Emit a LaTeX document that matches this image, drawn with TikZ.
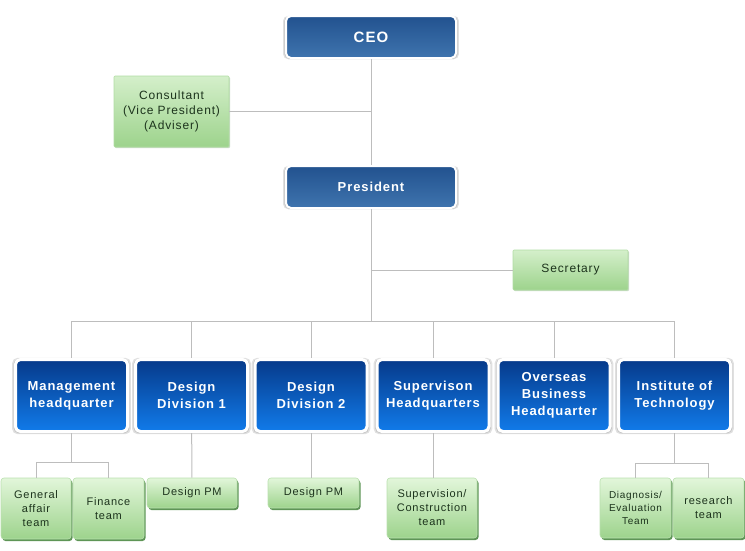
\documentclass[tikz,border=0pt]{standalone}
\usepackage{fontspec}
\setmainfont{Liberation Sans}
\newfontfamily\orgfont[LetterSpace=7]{Liberation Sans}
\usetikzlibrary{shadows}
\definecolor{chieftop}{HTML}{22528F}
\definecolor{chiefbot}{HTML}{3F74AE}
\definecolor{divtop}{HTML}{063A8A}
\definecolor{divbot}{HTML}{117BEA}
\definecolor{greentop}{HTML}{E2F6DA}
\definecolor{greenbot}{HTML}{9DD38C}
\definecolor{greendark}{HTML}{4C8A44}
\definecolor{greentext}{HTML}{1C331C}
\definecolor{linegray}{HTML}{BDBDBD}
\tikzset{
  glow/.style={drop shadow={fill=black, opacity=.12, shadow xshift=0pt, shadow yshift=-.5pt, shadow scale=#1}},
  chief/.style={draw=white, line width=2pt, rounded corners=5pt,
    top color=chieftop, bottom color=chiefbot, text=white,
    minimum width=170pt, minimum height=42pt, glow=1.035, glow=1.02},
  division/.style={draw=white, line width=3pt, rounded corners=5pt,
    top color=divtop, bottom color=divbot, text=white, align=center,
    minimum width=112pt, minimum height=72pt,
    font=\orgfont\bfseries\fontsize{13}{17}\selectfont, glow=1.06, glow=1.035},
  advisor/.style={draw=greenbot!80, line width=.6pt, rounded corners=1pt,
    top color=greentop!80!greenbot, bottom color=greenbot, text=greentext, align=center,
    font=\orgfont\fontsize{12}{15}\selectfont,
    drop shadow={fill=greendark, opacity=.3, shadow xshift=1pt, shadow yshift=-1pt}},
  team/.style={draw=greenbot!70, line width=.6pt, rounded corners=3pt,
    top color=greentop, bottom color=greenbot, text=greentext, align=center,
    font=\orgfont\fontsize{11}{14}\selectfont,
    drop shadow={fill=greendark, opacity=.9, shadow xshift=1.5pt, shadow yshift=-2pt}},
  link/.style={draw=linegray, line width=1pt}
}
\begin{document}
\begin{tikzpicture}[x=1pt,y=-1pt]
\useasboundingbox (0,0) rectangle (745,550);
\node[chief, font=\orgfont\bfseries\fontsize{15}{18}\selectfont] (ceo) at (371,37) {CEO};
\node[chief, font=\orgfont\bfseries\fontsize{13}{17}\selectfont] (pres) at (371,187) {President};
\node[advisor, minimum width=115pt, minimum height=71pt] (cons) at (171.5,111.5) {Consultant\\(Vice President)\\(Adviser)};
\node[advisor, minimum width=115pt, minimum height=40pt] (sec) at (570.5,270) {Secretary};
\foreach \n/\x/\t in {1/71.5/{Management\\headquarter}, 2/191.5/{Design\\Division 1},
  3/311/{Design\\Division 2}, 4/433/{Supervison\\Headquarters},
  5/554/{Overseas\\Business\\Headquarter}, 6/674.5/{Institute of\\Technology}}
  \node[division] (d\n) at (\x,395.5) {\t};
%%%%
\node[team, minimum width=70pt, minimum height=61pt] (gen) at (36,508.5) {General\\affair\\team};
\node[team, minimum width=71pt, minimum height=61pt] (fin) at (108.5,508.5) {Finance\\team};
\node[team, minimum width=90pt, minimum height=30pt] (pm1) at (192,493) {Design PM};
\node[team, minimum width=91pt, minimum height=30pt] (pm2) at (313.5,493) {Design PM};
\node[team, minimum width=90pt, minimum height=60pt] (sup) at (432,508) {Supervision/\\Construction\\team};
\node[team, minimum width=71pt, minimum height=60pt, font=\orgfont\fontsize{10}{13}\selectfont] (diag) at (635.5,508) {Diagnosis/\\Evaluation\\Team};
\node[team, minimum width=71pt, minimum height=60pt] (res) at (708.5,508) {research\\team};
%%%%
\coordinate (bus) at (372,321);
\coordinate (mj) at (72,462);
\coordinate (ij) at (674,463);
\draw[link] (ceo) -- (pres);
\draw[link] (cons.east) -- (cons.east -| ceo);
\draw[link] (sec.west) -- (sec.west -| pres);
\draw[link] (pres) -- (pres |- bus);
\draw[link] (d1.north |- bus) -- (d6.north |- bus);
\foreach \n in {1,...,6}
  \draw[link] (d\n.north |- bus) -- (d\n.north);
\draw[link] (d1) -- (d1 |- mj);
\draw[link] (gen.north) -- (gen.north |- mj) -- (fin.north |- mj) -- (fin.north);
\draw[link] (d2) -- (pm1);
\draw[link] (d3.south) -- (d3.south |- pm2.north);
\draw[link] (d4.south) -- (d4.south |- sup.north);
\draw[link] (d6) -- (d6 |- ij);
\draw[link] (diag.north) -- (diag.north |- ij) -- (res.north |- ij) -- (res.north);
\end{tikzpicture}
\end{document}
